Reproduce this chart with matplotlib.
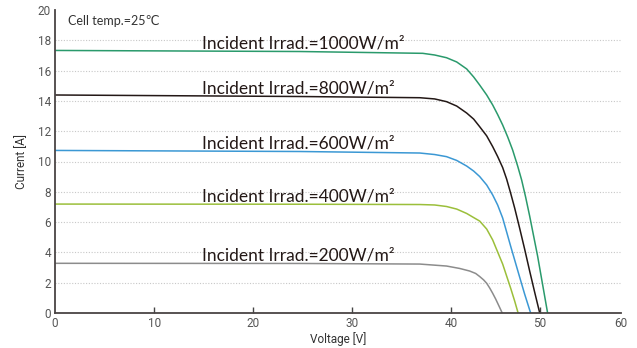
import numpy as np
import matplotlib
matplotlib.use("Agg")
import matplotlib.pyplot as plt

# ---- data ----
irradiance_labels = ["Incident Irrad.=1000W/m²", "Incident Irrad.=800W/m²",
                     "Incident Irrad.=600W/m²", "Incident Irrad.=400W/m²",
                     "Incident Irrad.=200W/m²"]

v_1000 = [0, 24.7, 37.1, 38.3, 39.5, 40.59, 41.72, 42.51, 43.19, 43.99, 44.67, 45.23,
          45.80, 46.37, 46.93, 47.50, 47.95, 48.40, 48.86, 49.76, 50.97]
i_1000 = [17.33, 17.26, 17.14, 17.03, 16.85, 16.57, 16.11, 15.58, 15.05, 14.39, 13.73, 13.10,
          12.41, 11.62, 10.76, 9.70, 8.78, 7.66, 6.40, 3.76, 0]

v_800 = [0, 24.7, 36.8, 38.3, 39.5, 40.59, 41.72, 42.51, 43.19, 43.99, 44.67, 45.23,
         45.80, 46.25, 46.70, 47.16, 47.72, 48.29, 48.86, 49.42, 50.0]
i_800 = [14.39, 14.29, 14.21, 14.13, 13.95, 13.66, 13.2, 12.8, 12.3, 11.69, 10.98, 10.33,
         9.60, 8.84, 7.92, 6.93, 5.61, 4.22, 2.77, 1.39, 0]

v_600 = [0, 24.7, 36.8, 38.3, 39.5, 40.59, 41.72, 42.51, 43.19, 43.99, 44.67, 45.23,
         45.80, 46.25, 46.70, 47.16, 47.72, 48.29, 48.97]
i_600 = [10.73, 10.66, 10.56, 10.46, 10.32, 10.07, 9.70, 9.37, 9.01, 8.45, 7.79, 7.13,
         6.27, 5.35, 4.42, 3.50, 2.38, 1.25, 0]

v_400 = [0, 24.7, 36.8, 38.3, 39.5, 40.59, 41.72, 42.51, 43.19, 43.99, 44.67, 45.23,
         45.80, 46.25, 46.70, 47.16, 47.55]
i_400 = [7.19, 7.18, 7.16, 7.13, 7.03, 6.86, 6.57, 6.30, 6.07, 5.54, 4.82, 4.03,
         3.23, 2.44, 1.65, 0.79, 0]

v_200 = [0, 24.7, 36.8, 39.5, 40.93, 42.06, 42.74, 43.19, 43.65, 43.99, 44.33, 44.67,
         45.01, 45.35, 45.75]
i_200 = [3.28, 3.27, 3.23, 3.10, 2.94, 2.77, 2.61, 2.41, 2.18, 1.96, 1.65, 1.30,
         0.92, 0.50, 0]

x_ticks = [0, 10, 20, 30, 40, 50, 60]
y_ticks = [0, 2, 4, 6, 8, 10, 12, 14, 16, 18, 20]

series = [(v_1000, i_1000), (v_800, i_800), (v_600, i_600), (v_400, i_400), (v_200, i_200)]
colors = ["#2a9a6c", "#231816", "#3b98d4", "#9bbf3a", "#8c8c8c"]
label_y = [17.47, 14.52, 10.89, 7.36, 3.45]

# the reference axis is compressed beyond 40 V
_knots_data = [0, 40, 50, 60]
_knots_axis = [0, 40, 48.9, 57.1]
def fwd(x):
    return np.interp(x, _knots_data, _knots_axis)
def inv(x):
    return np.interp(x, _knots_axis, _knots_data)

plt.rcParams['font.family'] = ['Roboto', 'DejaVu Sans']

fig = plt.figure(figsize=(6.37, 3.48), dpi=100)
ax = fig.add_axes([55/637, 35/348, (621-55)/637, (313-10)/348])
ax.set_xscale('function', functions=(fwd, inv))

for (v, i), c in zip(series, colors):
    ax.plot(v, i, color=c, lw=1.1, solid_capstyle='butt', solid_joinstyle='round')

for lab, y in zip(irradiance_labels, label_y):
    ax.text(14.8, y, lab, fontsize=12.5, color="#231816", va='baseline', ha='left',
            family=['Lato', 'DejaVu Sans'])

ax.text(1.3, 19.3, "Cell temp.=25℃", fontsize=9, color="#333333", va='center', ha='left',
        family=['Lato', 'DejaVu Sans'])

for y in y_ticks[1:-1]:
    ax.axhline(y, color="#c8c8c8", lw=0.8, ls=(0, (1, 1.5)), zorder=0)

ax.set_xlim(0, 60)
ax.set_ylim(0, 20)
ax.set_xticks(x_ticks)
ax.set_xticklabels([str(t) for t in x_ticks])
ax.set_yticks(y_ticks)
ax.set_yticklabels([str(t) for t in y_ticks])

ax.tick_params(axis='y', length=0, pad=3, labelsize=8.5, labelcolor="#555555")
ax.tick_params(axis='x', direction='in', length=4, width=1, color="#444444",
               pad=3, labelsize=8.5, labelcolor="#555555")
xt = ax.xaxis.get_major_ticks()
xt[0].tick1line.set_visible(False)
xt[-1].tick1line.set_visible(False)

for s in ['top', 'right']:
    ax.spines[s].set_visible(False)
for s in ['left', 'bottom']:
    ax.spines[s].set_color("#4a4444")
    ax.spines[s].set_linewidth(1.3)

ax.set_xlabel("Voltage [V]", fontsize=8.5, color="#333333", labelpad=1)
ax.set_ylabel("Current [A]", fontsize=8.5, color="#333333", labelpad=7)

fig.savefig("out.png", dpi=100)
